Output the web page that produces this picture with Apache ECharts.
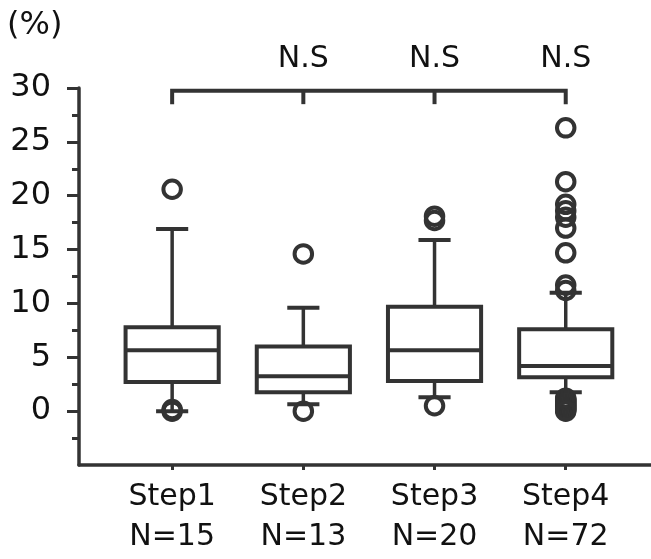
<!DOCTYPE html>
<html>
<head>
<meta charset="utf-8">
<script src="https://cdn.jsdelivr.net/npm/echarts@6/dist/echarts.min.js"></script>
<style>
html,body{margin:0;padding:0;background:#fff;}
#chart{width:651px;height:559px;}
</style>
</head>
<body>
<div id="chart"></div>
<script>
// ---- data ----
const categories = ['Step1', 'Step2', 'Step3', 'Step4'];
const nLabels = ['N=15', 'N=13', 'N=20', 'N=72'];
const positions = [1, 2, 3, 4];
// [min, Q1, median, Q3, max]
const whiskerMin = [0.0, 0.65, 1.3, 1.75];
const q1Values = [2.7, 1.75, 2.8, 3.15];
const medianValues = [5.65, 3.25, 5.65, 4.2];
const q3Values = [7.8, 6.0, 9.7, 7.6];
const whiskerMax = [16.9, 9.6, 15.9, 11.0];
const outliers1 = [20.6, 0.0, 0.15];
const outliers2 = [14.6, 0.0];
const outliers3 = [18.1, 17.7, 0.5];
const outliers4 = [26.3, 21.3, 19.2, 18.6, 18.0, 17.0, 14.7, 11.7, 11.2,
                   1.2, 1.1, 1.0, 0.9, 0.8, 0.7, 0.6, 0.5, 0.4, 0.3, 0.2, 0.1, 0.0];
const yTicks = [0, 5, 10, 15, 20, 25, 30];
const bracketTop = 29.75;
const bracketDrop = 28.5;
const nsPositions = [2, 3, 4];
const nsLabel = 'N.S';
const nsY = 32.7;

// ---- build ----
const boxData = positions.map((p, i) => [p, whiskerMin[i], q1Values[i], medianValues[i], q3Values[i], whiskerMax[i]]);
const outlierGroups = [outliers1, outliers2, outliers3, outliers4];
const outlierData = [];
outlierGroups.forEach((g, i) => g.forEach(v => outlierData.push([positions[i], v])));

const INK = '#333';
const TXT = '#111';
const FONT = 'DejaVu Sans';

const chart = echarts.init(document.getElementById('chart'), null, {renderer: 'canvas'});

function renderBox(params, api) {
  const x = api.value(0);
  const lo = api.coord([x, api.value(1)]);
  const q1 = api.coord([x, api.value(2)]);
  const md = api.coord([x, api.value(3)]);
  const q3 = api.coord([x, api.value(4)]);
  const hi = api.coord([x, api.value(5)]);
  const bw = api.size([0.71, 0])[0];
  const cw = api.size([0.245, 0])[0];
  const cx = q1[0];
  const lineSt = {stroke: INK, lineWidth: 3.5, fill: null};
  const thick = {stroke: INK, lineWidth: 4, fill: null};
  return {
    type: 'group',
    children: [
      {type: 'line', shape: {x1: cx, y1: hi[1], x2: cx, y2: q3[1]}, style: lineSt},
      {type: 'line', shape: {x1: cx, y1: q1[1], x2: cx, y2: lo[1]}, style: lineSt},
      {type: 'line', shape: {x1: cx - cw / 2, y1: hi[1], x2: cx + cw / 2, y2: hi[1]}, style: thick},
      {type: 'line', shape: {x1: cx - cw / 2, y1: lo[1], x2: cx + cw / 2, y2: lo[1]}, style: thick},
      {type: 'rect', shape: {x: cx - bw / 2, y: q3[1], width: bw, height: q1[1] - q3[1]},
        style: {stroke: INK, lineWidth: 4, fill: '#fff'}},
      {type: 'line', shape: {x1: cx - bw / 2, y1: md[1], x2: cx + bw / 2, y2: md[1]}, style: thick}
    ]
  };
}

const bracketSeries = [
  {type: 'line', data: [[positions[0], bracketDrop], [positions[0], bracketTop], [positions[3], bracketTop], [positions[3], bracketDrop]]},
  {type: 'line', data: [[positions[1], bracketTop], [positions[1], bracketDrop]]},
  {type: 'line', data: [[positions[2], bracketTop], [positions[2], bracketDrop]]}
].map(s => Object.assign(s, {
  symbol: 'none', silent: true, animation: false,
  lineStyle: {color: INK, width: 4, cap: 'butt', join: 'miter'}
}));

const option = {
  animation: false,
  backgroundColor: '#fff',
  title: {
    text: '(%)', left: 2, top: 5,
    textStyle: {fontFamily: FONT, fontSize: 32, fontWeight: 'normal', color: TXT}
  },
  grid: {left: 79, right: 0, top: 88, bottom: 94, containLabel: false},
  xAxis: {
    type: 'value', min: 0.29, max: 4.65,
    splitLine: {show: false},
    axisLine: {show: true, onZero: false, lineStyle: {color: INK, width: 3.5}},
    axisTick: {show: true, customValues: positions, length: 5, lineStyle: {color: INK, width: 3}},
    axisLabel: {
      show: true, customValues: positions, margin: 12,
      formatter: v => {
        const i = positions.indexOf(Math.round(v));
        return i >= 0 ? categories[i] + '\n' + nLabels[i] : '';
      },
      fontFamily: FONT, fontSize: 30, color: TXT, lineHeight: 40
    }
  },
  yAxis: {
    type: 'value', min: -5, max: 30, interval: 5,
    splitLine: {show: false},
    axisLine: {show: true, lineStyle: {color: INK, width: 3.5}},
    axisTick: {show: true, customValues: yTicks, length: 12, lineStyle: {color: INK, width: 3}},
    minorTick: {show: true, splitNumber: 2, length: 7, lineStyle: {color: INK, width: 3}},
    axisLabel: {
      show: true, customValues: yTicks, margin: 28,
      formatter: v => (v < 0 ? '' : String(v)),
      fontFamily: FONT, fontSize: 32, color: TXT
    }
  },
  series: [
    ...bracketSeries,
    {
      type: 'custom', renderItem: renderBox, data: boxData,
      encode: {x: 0, y: [1, 2, 3, 4, 5]}, z: 3, animation: false
    },
    {
      type: 'scatter', data: outlierData, symbol: 'circle', symbolSize: 17.5, z: 4,
      itemStyle: {color: 'rgba(0,0,0,0)', borderColor: INK, borderWidth: 4, opacity: 1},
      emphasis: {disabled: true}, animation: false
    },
    {
      type: 'scatter', clip: false, data: nsPositions.map(p => [p, nsY]),
      symbolSize: 1, itemStyle: {color: 'rgba(0,0,0,0)'},
      label: {show: true, position: 'inside', formatter: nsLabel,
        fontFamily: FONT, fontSize: 30, color: TXT, textBorderWidth: 0, opacity: 1},
      emphasis: {disabled: true}, animation: false, silent: true
    }
  ]
};
chart.setOption(option);
</script>
</body>
</html>
